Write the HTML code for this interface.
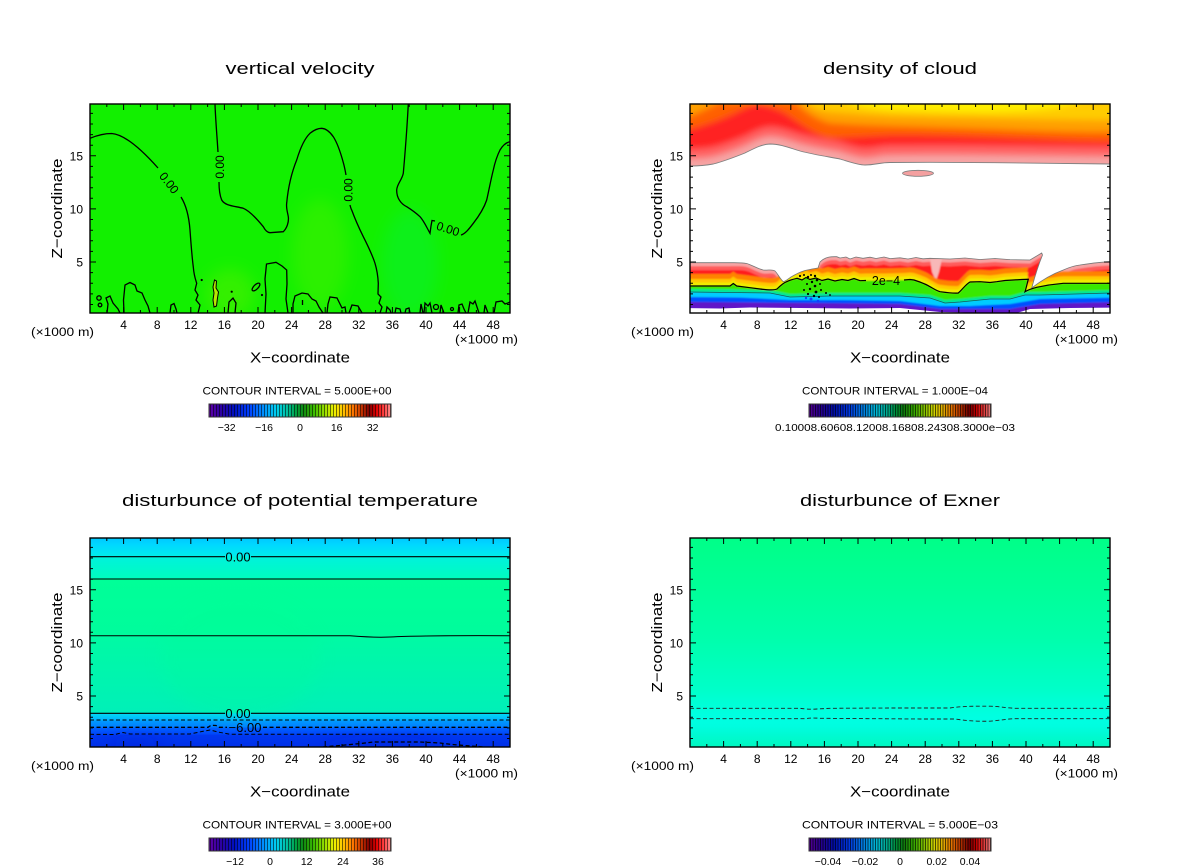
<!DOCTYPE html>
<html><head><meta charset="utf-8"><style>html,body{margin:0;padding:0;background:#fff}svg{display:block}</style></head><body>
<svg xmlns="http://www.w3.org/2000/svg" width="1200" height="868" viewBox="0 0 1200 868" font-family="'Liberation Sans', sans-serif">
<defs>
<clipPath id="bx"><rect x="0" y="0" width="420" height="209"/></clipPath>
<clipPath id="upc"><path d="M-10,62.5 L0,62 C10,62 18,61 23.3,60 C35,57 45,53 55,49 C65,44 72,40.3 80,40 C90,40 100,44 110,47 C125,51 140,53 150,55 C160,58 168,61 175,61 C185,61 190,58.5 200,58.5 L240,58.3 C300,58.5 380,59.5 420,60 L430,60 V-20 H-10 Z"/></clipPath>
<clipPath id="lowc"><path d="M-10,158.7 L40,158.7 C48,158.7 52,158.5 56.7,159.5 C62,161 68,165 73.3,166 C78,166.5 82,165 85,167 C88,170 90,175 93.3,177.7 C96,177 98,175 101,173 C106,170 110,168 115,166.5 C120,165.5 124,164.5 128,164 L130,158 L133,155.5 C137,153 140,152.5 146.7,152.7 L150,154 L156,153 L160,155 L166,153 L173,154.3 L180,153.2 L186,154.5 L194,153 L200,154.6 L210,153.8 L218,155 L226,153.5 L233,154.8 L240,154.3 L260,155 L275,154 L290,155.5 L305,154.5 L320,155.6 L340,156 L351.7,149 L352.5,151 C348,162 345,172 341.7,184 C352,176 362,170 373.3,166 C380,163 385,161.5 390,161 C400,159.5 410,158 430,157.7 L430,215 L-10,215 Z"/></clipPath>
<filter id="bl2" x="-10%" y="-30%" width="120%" height="160%"><feGaussianBlur stdDeviation="3.2"/></filter>
<filter id="bl1" x="-10%" y="-10%" width="120%" height="120%"><feGaussianBlur stdDeviation="0.9"/></filter>
<filter id="bl4" x="-50%" y="-50%" width="200%" height="200%"><feGaussianBlur stdDeviation="8"/></filter>
<linearGradient id="rb" x1="0" y1="0" x2="1" y2="0">
<stop offset="0" stop-color="#6000a8"/><stop offset="0.06" stop-color="#3000a0"/><stop offset="0.14" stop-color="#0010c0"/><stop offset="0.22" stop-color="#0040ff"/><stop offset="0.30" stop-color="#0090ff"/><stop offset="0.37" stop-color="#00d0f0"/><stop offset="0.43" stop-color="#00c0a0"/><stop offset="0.48" stop-color="#00a040"/><stop offset="0.52" stop-color="#108a10"/><stop offset="0.58" stop-color="#40c000"/><stop offset="0.64" stop-color="#a0e000"/><stop offset="0.69" stop-color="#f0f000"/><stop offset="0.74" stop-color="#ffc000"/><stop offset="0.79" stop-color="#ff7800"/><stop offset="0.84" stop-color="#c03000"/><stop offset="0.88" stop-color="#800000"/><stop offset="0.92" stop-color="#e00000"/><stop offset="0.96" stop-color="#ff4040"/><stop offset="1" stop-color="#ff9090"/>
</linearGradient>
<pattern id="st" x="0" y="0" width="3" height="20" patternUnits="userSpaceOnUse"><rect x="0" y="0" width="1" height="20" fill="#000" fill-opacity=".55"/></pattern>
<pattern id="st2" x="0" y="0" width="2.5" height="20" patternUnits="userSpaceOnUse"><rect x="0" y="0" width="1" height="20" fill="#000" fill-opacity=".65"/></pattern>
<linearGradient id="g3" gradientUnits="userSpaceOnUse" x1="0" y1="0" x2="0" y2="209">
<stop offset="0" stop-color="#00c8ff"/><stop offset="0.033" stop-color="#00d8ff"/><stop offset="0.086" stop-color="#00ecec"/><stop offset="0.091" stop-color="#00f2dc"/><stop offset="0.19" stop-color="#00fcc0"/><stop offset="0.20" stop-color="#00ff98"/><stop offset="0.464" stop-color="#00fc9c"/><stop offset="0.474" stop-color="#00faa4"/><stop offset="0.833" stop-color="#00f0b8"/><stop offset="0.842" stop-color="#00d8f4"/><stop offset="0.871" stop-color="#00b4ff"/><stop offset="0.876" stop-color="#0098ff"/><stop offset="0.904" stop-color="#0080ff"/><stop offset="0.909" stop-color="#0060ff"/><stop offset="0.938" stop-color="#0048fa"/><stop offset="0.943" stop-color="#0038f0"/><stop offset="1" stop-color="#0030e8"/>
</linearGradient>
<linearGradient id="g4" gradientUnits="userSpaceOnUse" x1="0" y1="0" x2="0" y2="209">
<stop offset="0" stop-color="#00ff88"/><stop offset="0.24" stop-color="#00ff98"/><stop offset="0.48" stop-color="#00ffac"/><stop offset="0.72" stop-color="#00ffc8"/><stop offset="0.80" stop-color="#00ffd8"/><stop offset="0.86" stop-color="#00ffe2"/><stop offset="0.90" stop-color="#00fde0"/><stop offset="0.95" stop-color="#00fad0"/><stop offset="1" stop-color="#00f8c0"/>
</linearGradient>
<g id="ax" fill="none" stroke="#000">
<rect x="0" y="0" width="420" height="209" stroke-width="1.4"/>
<path stroke-width="1" d="M16.8,0v3M33.6,0v6M50.4,0v3M67.2,0v6M84,0v3M100.8,0v6M117.6,0v3M134.4,0v6M151.2,0v3M168,0v6M184.8,0v3M201.6,0v6M218.4,0v3M235.2,0v6M252,0v3M268.8,0v6M285.6,0v3M302.4,0v6M319.2,0v3M336,0v6M352.8,0v3M369.6,0v6M386.4,0v3M403.2,0v6
M16.8,209v-3M33.6,209v-6M50.4,209v-3M67.2,209v-6M84,209v-3M100.8,209v-6M117.6,209v-3M134.4,209v-6M151.2,209v-3M168,209v-6M184.8,209v-3M201.6,209v-6M218.4,209v-3M235.2,209v-6M252,209v-3M268.8,209v-6M285.6,209v-3M302.4,209v-6M319.2,209v-3M336,209v-6M352.8,209v-3M369.6,209v-6M386.4,209v-3M403.2,209v-6
M0,200.5h3M0,189.9h3M0,179.3h3M0,168.6h3M0,158h6M0,147.4h3M0,136.8h3M0,126.2h3M0,115.5h3M0,104.9h6M0,94.3h3M0,83.7h3M0,73.1h3M0,62.4h3M0,51.8h6M0,41.2h3M0,30.6h3M0,20h3M0,9.4h3
M420,200.5h-3M420,189.9h-3M420,179.3h-3M420,168.6h-3M420,158h-6M420,147.4h-3M420,136.8h-3M420,126.2h-3M420,115.5h-3M420,104.9h-6M420,94.3h-3M420,83.7h-3M420,73.1h-3M420,62.4h-3M420,51.8h-6M420,41.2h-3M420,30.6h-3M420,20h-3M420,9.4h-3"/>
</g>
<g id="cb"><rect x="119" y="300" width="182" height="13" fill="url(#rb)"/><rect x="119" y="300" width="182" height="13" fill="url(#st)"/><rect x="119" y="300" width="182" height="13" fill="none" stroke="#333" stroke-width="1"/></g>
<g id="cb2"><rect x="119" y="300" width="182" height="13" fill="url(#rb)"/><rect x="119" y="300" width="182" height="13" fill="url(#st2)"/><rect x="119" y="300" width="182" height="13" fill="#000" fill-opacity=".12"/><rect x="119" y="300" width="182" height="13" fill="none" stroke="#333" stroke-width="1"/></g>
<path id="UP" d="M-10,62.5 L0,62 C10,62 18,61 23.3,60 C35,57 45,53 55,49 C65,44 72,40.3 80,40 C90,40 100,44 110,47 C125,51 140,53 150,55 C160,58 168,61 175,61 C185,61 190,58.5 200,58.5 L240,58.3 C300,58.5 380,59.5 420,60 L430,60 V-30 H-10 Z"/>
<path id="TR" d="M-10,158.7 L40,158.7 C48,158.7 52,158.5 56.7,159.5 C62,161 68,165 73.3,166 C78,166.5 82,165 85,167 C88,170 90,175 93.3,177.7 C96,177 98,175 101,173 C106,170 110,168 115,166.5 C120,165.5 124,164.5 128,164 L130,158 L133,155.5 C137,153 140,152.5 146.7,152.7 L150,154 L156,153 L160,155 L166,153 L173,154.3 L180,153.2 L186,154.5 L194,153 L200,154.6 L210,153.8 L218,155 L226,153.5 L233,154.8 L240,154.3 L260,155 L275,154 L290,155.5 L305,154.5 L320,155.6 L340,156 L351.7,149 L352.5,151 C348,162 345,172 341.7,184 C352,176 362,170 373.3,166 C380,163 385,161.5 390,161 C400,159.5 410,158 430,157.7 L430,215 L-10,215 Z"/>
<path id="CR" d="M-10,182 L40,182 L43.3,179.5 L46.7,182 C55,183 62,184 70,185 C78,186 84,186.5 87,185 C90,182 93,179 96.7,177.7 C100,176 104,175 107,174.3 L112,176 L116,173.5 L120,175.5 L126,174 L132,176.5 L138,175 L145,177 L152,175.5 L158,176.5 L164,174.5 L170,176.7 L176,176.5 L195,176.5 L214,176 L220,175.5 L224,176 C230,178 236,180 240,182.7 C244,185 247,187 250,187.7 C256,188.5 263,189.5 268.3,189 C272,186 276,180 280,178 L290,177.7 L300,178.5 L306.7,177.7 L315,176.5 L323.3,176 L332,175.5 L338.3,175.3 C337,180 336,185 335,187.7 C338,186 342,184.5 346.7,183.3 C355,181.5 365,180 373.3,179.3 L430,179.3 L430,215 L-10,215 Z"/>
<path id="G2" d="M-10,188 L40,188.5 L80,189 L100,193 L140,192 L210,192 L240,194 L255,199 L270,198 L300,195 L320,195 L335,191 L350,191 L430,189 L430,215 L-10,215 Z"/>
</defs>
<rect width="1200" height="868" fill="#fff"/>

<!-- ============ PANEL 1 : vertical velocity ============ -->
<g transform="translate(90,104)">
<g clip-path="url(#bx)">
<rect width="420" height="209" fill="#12f000"/>
<g filter="url(#bl4)">
<ellipse cx="230" cy="150" rx="28" ry="55" fill="#70f000" opacity=".28"/>
<ellipse cx="140" cy="190" rx="25" ry="25" fill="#80f000" opacity=".3"/>
<ellipse cx="320" cy="160" rx="28" ry="55" fill="#00f060" opacity=".28"/>
</g>
<path d="M124.5,176 L126.5,177 L126,184 L128.5,188 L127.5,194 L126.5,202 L124,203 L123,196 L124,189 L123,183 Z" fill="#b8e800" stroke="#000" stroke-width="1"/>
<g fill="none" stroke="#000" stroke-width="1.3">
<path d="M0,34.3 C8,31 15,29.5 21.7,29.5 C35,30.5 52,46 68,64 M91,93 C96,101 99,113 100,126 C101,140 102,153 103.3,163 C104,172 106,177 106.7,179.3 L105,186 L108,191 L106,196 L110,201 L108,209"/>
<path d="M125,0 C125.5,15 127,32 128,48 M129,78 C129,86 130,92 131.7,96 C135,102 145,102 153.3,104.3 C160,107 167,115 173.3,122.7 C175,126 177,128.5 180,128.7 L193.3,127.7 C197,124 199,118 198.3,112.7 C197.5,108 196,104 196.7,99 C198,85 201,70 206.7,56 C210,45 214,35 220,29.3 C224,26 228,24.3 231.7,24.3 C236,24.5 240,28 243.3,32.7 C248,40 251,50 253.5,59.3 C254.5,63 255.3,67 256,71 M260,101 C260.5,103 261,105 261.7,106 C265,115 269,124 273.3,132.7 C278,142 282,150 285,159.3 C287,166 288,173 288.3,179.3 L288,190 L291,193 L289,199 L292,203 L290,209"/>
<path d="M318.3,0 C317,25 315,50 313.3,69.3 C312,76 307,80 306.7,86 C306.5,94 311,100 316.7,102.7 C322,106 326,109 330,112.7 C334,117 337,124 340,129.3 L341,122 L342,116.5 L345,117 M371,131 C375,130 379,125 383.3,119.3 C389,112 394,104 396.7,96 C399,86 401,75 403.3,66 C405,58 407,52 410,46 C413,41 416,38.5 420,37.7"/>
<path d="M17,209 L18,200 L16,194 L20,192 L23,199 L28,205 L30,209 M34,209 L33.5,196 L35,181 L40,178.5 L45,181 L47,187 L52,189 L55,196 L58,202 L60,209 M80,209 L81,201 L84,199.5 L86,205 L87,209 M138,209 L139,198 L143,194 L146,199 L145,209 M175,209 L176,190 L175,175 L176.5,160 L186,158.3 L192,162 L196.7,166 L197,180 L196,195 L198,209 M203,209 L203,200 L205,192 L212,189 L218,190 L222,195 L226,197 L229,203 L233,209 M212.5,196 L212.5,201 M237,209 L238,200 L240,193 L247,194 L250,200 L252,204 L255,203 L256,209 M259,209 L262,201 L268,202 L272,209 M296,209 L297,203 L300,206 L301,209 M305,209 L306,204 L310,205 L311,209 M315,209 L316,205 L319,204 L320,209 M330,209 L331,200 L333,209 M334,209 L335,199 L338,202 L340,199 L342,209 M350,209 L351,201 L354,209 M368,209 L369,201 L372,200 L374,205 L376,209 M378,209 L380,198 L383,200 L385,197 L387,203 L389,209 M394,209 L395,201 L398,209 M404,209 L406,198 L412,197 L415,200 L418,199 L420,198"/>
<circle cx="9" cy="194" r="2.2"/><circle cx="10" cy="201" r="1.8"/><circle cx="346" cy="203" r="2.5"/><circle cx="362" cy="205" r="1.5"/>
<ellipse cx="166" cy="183" rx="5" ry="2.2" transform="rotate(-45 166 183)"/>
</g>
<circle cx="111.7" cy="176" r="1.1"/><circle cx="141.7" cy="187.7" r="1.1"/><circle cx="172" cy="191" r="1.1"/>
<g font-size="12" text-anchor="middle" fill="#000">
<text transform="translate(79,79) rotate(52)" y="4">0.00</text>
<text transform="translate(130,63) rotate(-90)" y="4">0.00</text>
<text transform="translate(258.3,86) rotate(-90)" y="4">0.00</text>
<text transform="translate(358,125) rotate(18)" y="4">0.00</text>
</g>
</g>
<use href="#ax"/>
<text x="210" y="-30" text-anchor="middle" font-size="17" textLength="149" lengthAdjust="spacingAndGlyphs">vertical velocity</text>
<g font-size="12" text-anchor="middle"><text x="33.6" y="225">4</text><text x="67.2" y="225">8</text><text x="100.8" y="225">12</text><text x="134.4" y="225">16</text><text x="168" y="225">20</text><text x="201.6" y="225">24</text><text x="235.2" y="225">28</text><text x="268.8" y="225">32</text><text x="302.4" y="225">36</text><text x="336" y="225">40</text><text x="369.6" y="225">44</text><text x="403.2" y="225">48</text></g>
<g font-size="12" text-anchor="end"><text x="-7" y="56.3">15</text><text x="-7" y="109.4">10</text><text x="-7" y="162.5">5</text></g>
<text x="-59" y="232" font-size="11.5" textLength="63" lengthAdjust="spacingAndGlyphs">(×1000 m)</text>
<text x="365" y="239.5" font-size="11.5" textLength="63" lengthAdjust="spacingAndGlyphs">(×1000 m)</text>
<text x="210" y="258.5" text-anchor="middle" font-size="14.5" textLength="100" lengthAdjust="spacingAndGlyphs">X−coordinate</text>
<text transform="translate(-28,104.5) rotate(-90)" text-anchor="middle" font-size="14.5" textLength="100" lengthAdjust="spacingAndGlyphs">Z−coordinate</text>
<text x="207" y="290.5" text-anchor="middle" font-size="11" textLength="189" lengthAdjust="spacingAndGlyphs">CONTOUR INTERVAL = 5.000E+00</text>
<use href="#cb"/>
<g font-size="10.5" text-anchor="middle"><text x="136.7" y="327">−32</text><text x="174" y="327">−16</text><text x="210" y="327">0</text><text x="246.7" y="327">16</text><text x="282.7" y="327">32</text></g>
</g>

<!-- ============ PANEL 2 : density of cloud ============ -->
<g transform="translate(690,104)">
<g clip-path="url(#bx)">
<rect width="420" height="209" fill="#fff"/>
<use href="#UP" fill="#f6a4a4"/>
<g clip-path="url(#upc)">
<g filter="url(#bl2)">
<use href="#UP" fill="#ff6464" transform="translate(0,-8)"/>
<use href="#UP" fill="#ff2020" transform="translate(0,-17)"/>
<path fill="#ff6000" d="M-10,-10 L-10,26 L0,25 C15,21 30,16 45,9 C55,4 62,1 67,0 C75,1 85,4 95,9 C110,19 125,31 140,34 C160,33 180,32 203,31 C240,31 270,32 300,33 C340,34.5 380,36.5 407,37 L430,37 L430,-10 Z"/>
<path fill="#ffa000" d="M-10,-10 L-10,13 L0,12 C12,7 22,2 30,-2 L105,-2 C115,8 128,16 140,19 C160,20.5 185,21.5 203,22 C240,23 270,24 300,25 C340,26.5 380,28 407,28 L430,28 L430,-10 Z"/>
<path fill="#ffcc00" d="M110,-10 L115,-2 C122,4 130,7 140,8 C160,9.5 185,11 203,12 C240,13 270,13.5 300,14 C340,15 380,15.5 407,16 L430,16 L430,-10 Z"/>
<path fill="#fff000" d="M150,-10 L158,-1 C170,3 188,5 203,6 C240,7 270,8 300,8 C330,7.5 350,6 365,4 C375,2 385,0 395,-4 L400,-10 Z"/>
</g>
</g>
<path fill="none" stroke="#808080" stroke-width=".9" d="M0,62 C10,62 18,61 23.3,60 C35,57 45,53 55,49 C65,44 72,40.3 80,40 C90,40 100,44 110,47 C125,51 140,53 150,55 C160,58 168,61 175,61 C185,61 190,58.5 200,58.5 L240,58.3 C300,58.5 380,59.5 420,60"/>
<ellipse cx="228" cy="69.3" rx="15.5" ry="3" fill="#f4a0a0" stroke="#808080" stroke-width=".8"/>
<g clip-path="url(#lowc)">
<g filter="url(#bl1)">
<rect x="-10" y="140" width="440" height="80" fill="#f6a4a4"/>
<use href="#TR" fill="#ff5c5c" transform="translate(0,3.5)"/>
<use href="#TR" fill="#ff1c1c" transform="translate(0,7.5)"/>
<path d="M240,155 L252,155 L249,168 L246,177 L242,168 Z" fill="#f8b8b8"/>
<use href="#CR" fill="#ff8200" transform="translate(0,-12)"/>
<use href="#CR" fill="#ffc800" transform="translate(0,-7)"/>
<use href="#CR" fill="#f0ec00" transform="translate(0,-3.5)"/>
<use href="#CR" fill="#38e800"/>
<use href="#G2" fill="#00e890" transform="translate(0,-3)"/>
<use href="#G2" fill="#00ccff"/>
<path fill="#0050ff" d="M-10,193 L50,193.5 L100,196 L150,196 L210,197 L250,202 L280,202 L320,200 L350,195 L430,193.5 L430,215 L-10,215 Z"/>
<path fill="#6018c8" d="M-10,198 L60,198.5 L120,199 L210,200 L250,205 L320,205 L350,200 L430,198 L430,215 L-10,215 Z"/>
</g>
</g>
<path fill="#fff" d="M-10,204 L30,204.5 L60,203.5 L110,204 L160,204.5 L210,204 L250,208 L325,209.5 L340,205 L380,204 L430,203.5 L430,215 L-10,215 Z"/>
<path fill="none" stroke="#777" stroke-width=".8" d="M0,158.7 L40,158.7 C48,158.7 52,158.5 56.7,159.5 C62,161 68,165 73.3,166 C78,166.5 82,165 85,167 C88,170 90,175 93.3,177.7 C96,177 98,175 101,173 C106,170 110,168 115,166.5 C120,165.5 124,164.5 128,164 L130,158 L133,155.5 C137,153 140,152.5 146.7,152.7 L150,154 L156,153 L160,155 L166,153 L173,154.3 L180,153.2 L186,154.5 L194,153 L200,154.6 L210,153.8 L218,155 L226,153.5 L233,154.8 L240,154.3 L260,155 L275,154 L290,155.5 L305,154.5 L320,155.6 L340,156 L351.7,149 L352.5,151 C348,162 345,172 341.7,184 C352,176 362,170 373.3,166 C380,163 385,161.5 390,161 C400,159.5 410,158 420,157.7"/>
<path fill="none" stroke="#000" stroke-width="1.2" d="M0,182 L40,182 L43.3,179.5 L46.7,182 C55,183 62,184 70,185 C78,186 84,186.5 87,185 C90,182 93,179 96.7,177.7 C100,176 104,175 107,174.3 L112,176 L116,173.5 L120,175.5 L126,174 L132,176.5 L138,175 L145,177 L152,175.5 L158,176.5 L164,174.5 L170,176.7 L176,176.5 M214,176 L220,175.5 L224,176 C230,178 236,180 240,182.7 C244,185 247,187 250,187.7 C256,188.5 263,189.5 268.3,189 C272,186 276,180 280,178 L290,177.7 L300,178.5 L306.7,177.7 L315,176.5 L323.3,176 L332,175.5 L338.3,175.3 C337,180 336,185 335,187.7 C338,186 342,184.5 346.7,183.3 C355,181.5 365,180 373.3,179.3 L420,179.3"/>
<path fill="none" stroke="#222" stroke-width=".7" stroke-opacity=".7" d="M0,188 L40,188.5 L80,189 L100,193 L140,192 L210,192 L240,194 L255,199 L270,198 L300,195 L320,195 L335,191 L350,191 L420,189"/>
<g fill="#000">
<circle cx="110" cy="172" r="1.1"/><circle cx="114" cy="171" r="1"/><circle cx="118" cy="173" r="1.2"/><circle cx="121" cy="171" r="1"/><circle cx="125" cy="172" r="1.2"/><circle cx="127" cy="176" r="1.3"/><circle cx="122" cy="178" r="1.2"/><circle cx="117" cy="180" r="1"/><circle cx="125" cy="182" r="1.3"/><circle cx="130" cy="180" r="1"/><circle cx="120" cy="185" r="1.2"/><circle cx="126" cy="188" r="1.4"/><circle cx="131" cy="186" r="1"/><circle cx="118" cy="190" r="1.1"/><circle cx="124" cy="192" r="1.2"/><circle cx="129" cy="193" r="1"/><circle cx="114" cy="186" r="1"/><circle cx="136" cy="189" r="1"/><circle cx="140" cy="191" r="0.9"/>
</g>
<g fill="#1040ff"><circle cx="121" cy="195" r="1.5"/><circle cx="128" cy="197" r="1.3"/><circle cx="116" cy="194" r="1.2"/></g>
<text x="196" y="181" text-anchor="middle" font-size="12.5">2e−4</text>
</g>
<use href="#ax"/>
<text x="210" y="-30" text-anchor="middle" font-size="17" textLength="154" lengthAdjust="spacingAndGlyphs">density of cloud</text>
<g font-size="12" text-anchor="middle"><text x="33.6" y="225">4</text><text x="67.2" y="225">8</text><text x="100.8" y="225">12</text><text x="134.4" y="225">16</text><text x="168" y="225">20</text><text x="201.6" y="225">24</text><text x="235.2" y="225">28</text><text x="268.8" y="225">32</text><text x="302.4" y="225">36</text><text x="336" y="225">40</text><text x="369.6" y="225">44</text><text x="403.2" y="225">48</text></g>
<g font-size="12" text-anchor="end"><text x="-7" y="56.3">15</text><text x="-7" y="109.4">10</text><text x="-7" y="162.5">5</text></g>
<text x="-59" y="232" font-size="11.5" textLength="63" lengthAdjust="spacingAndGlyphs">(×1000 m)</text>
<text x="365" y="239.5" font-size="11.5" textLength="63" lengthAdjust="spacingAndGlyphs">(×1000 m)</text>
<text x="210" y="258.5" text-anchor="middle" font-size="14.5" textLength="100" lengthAdjust="spacingAndGlyphs">X−coordinate</text>
<text transform="translate(-28,104.5) rotate(-90)" text-anchor="middle" font-size="14.5" textLength="100" lengthAdjust="spacingAndGlyphs">Z−coordinate</text>
<text x="205" y="290.5" text-anchor="middle" font-size="11" textLength="186" lengthAdjust="spacingAndGlyphs">CONTOUR INTERVAL = 1.000E−04</text>
<use href="#cb2"/>
<text x="85" y="327" font-size="10.5" textLength="240" lengthAdjust="spacingAndGlyphs">0.10008.60608.12008.16808.24308.3000e−03</text>
</g>

<!-- ============ PANEL 3 : potential temperature ============ -->
<g transform="translate(90,538)">
<g clip-path="url(#bx)">
<rect width="420" height="209" fill="url(#g3)"/>
<g filter="url(#bl4)" opacity=".5">
<ellipse cx="45" cy="207" rx="25" ry="5" fill="#0018d0"/>
<ellipse cx="290" cy="208" rx="60" ry="5" fill="#0018d0"/>
<ellipse cx="150" cy="120" rx="80" ry="60" fill="#00ff90" opacity=".4"/>
</g>
<g fill="none" stroke="#000" stroke-width="1.2">
<path d="M0,18.7 H135 M161,18.7 H420"/>
<path d="M0,41 H420" stroke-width="1"/>
<path d="M0,97.7 C100,97.7 200,97.5 260,97.8 C275,99 290,99.5 300,99 C330,97.5 380,97.5 420,97.7" stroke-width="1"/>
<path d="M0,175.3 H135 M161,175.3 H420"/>
</g>
<g fill="none" stroke="#000" stroke-width="1" stroke-dasharray="4 2.5">
<path d="M0,182 H420"/>
<path d="M0,189.3 H118 L121,187.3 L126,187.5 L129,189.3 H137 M173,189.3 H420" stroke-width="1.3"/>
<path d="M0,196.3 L25,196.5 L33,194.5 L40,196 L100,196 L112,193.5 L120,192 L128,194 L140,196.3 H420"/>
<path d="M233,209 C250,207.5 268,206 283,204 L330,204 L350,205 C365,207 380,208 395,209" stroke-width="1.3"/>
</g>
<g font-size="13" text-anchor="middle"><text x="148" y="23.3">0.00</text><text x="148" y="180">0.00</text><text x="155" y="194">−6.00</text></g>
</g>
<use href="#ax"/>
<text x="210" y="-32" text-anchor="middle" font-size="17" textLength="356" lengthAdjust="spacingAndGlyphs">disturbunce of potential temperature</text>
<g font-size="12" text-anchor="middle"><text x="33.6" y="225">4</text><text x="67.2" y="225">8</text><text x="100.8" y="225">12</text><text x="134.4" y="225">16</text><text x="168" y="225">20</text><text x="201.6" y="225">24</text><text x="235.2" y="225">28</text><text x="268.8" y="225">32</text><text x="302.4" y="225">36</text><text x="336" y="225">40</text><text x="369.6" y="225">44</text><text x="403.2" y="225">48</text></g>
<g font-size="12" text-anchor="end"><text x="-7" y="56.3">15</text><text x="-7" y="109.4">10</text><text x="-7" y="162.5">5</text></g>
<text x="-59" y="232" font-size="11.5" textLength="63" lengthAdjust="spacingAndGlyphs">(×1000 m)</text>
<text x="365" y="239.5" font-size="11.5" textLength="63" lengthAdjust="spacingAndGlyphs">(×1000 m)</text>
<text x="210" y="258.5" text-anchor="middle" font-size="14.5" textLength="100" lengthAdjust="spacingAndGlyphs">X−coordinate</text>
<text transform="translate(-28,104.5) rotate(-90)" text-anchor="middle" font-size="14.5" textLength="100" lengthAdjust="spacingAndGlyphs">Z−coordinate</text>
<text x="207" y="290.5" text-anchor="middle" font-size="11" textLength="189" lengthAdjust="spacingAndGlyphs">CONTOUR INTERVAL = 3.000E+00</text>
<use href="#cb"/>
<g font-size="10.5" text-anchor="middle"><text x="145" y="327">−12</text><text x="180" y="327">0</text><text x="216.7" y="327">12</text><text x="253" y="327">24</text><text x="288" y="327">36</text></g>
</g>

<!-- ============ PANEL 4 : Exner ============ -->
<g transform="translate(690,538)">
<g clip-path="url(#bx)">
<rect width="420" height="209" fill="url(#g4)"/>
<g fill="none" stroke="#222" stroke-width=".9" stroke-dasharray="4 2.5">
<path d="M0,170.3 L110,170.3 C115,171 120,171.5 127,171 L140,170.3 L200,170 L260,170 C270,168.5 280,168 300,168.2 C310,168.5 315,169.8 325,170.3 L420,170.3"/>
<path d="M0,180.7 L115,180.7 C120,180 124,179.8 130,180.3 L230,181 L265,181 C275,182.5 285,183.5 300,183.2 C310,182.5 315,181 325,180.7 L420,180.7"/>
</g>
</g>
<use href="#ax"/>
<text x="210" y="-32" text-anchor="middle" font-size="17" textLength="200" lengthAdjust="spacingAndGlyphs">disturbunce of Exner</text>
<g font-size="12" text-anchor="middle"><text x="33.6" y="225">4</text><text x="67.2" y="225">8</text><text x="100.8" y="225">12</text><text x="134.4" y="225">16</text><text x="168" y="225">20</text><text x="201.6" y="225">24</text><text x="235.2" y="225">28</text><text x="268.8" y="225">32</text><text x="302.4" y="225">36</text><text x="336" y="225">40</text><text x="369.6" y="225">44</text><text x="403.2" y="225">48</text></g>
<g font-size="12" text-anchor="end"><text x="-7" y="56.3">15</text><text x="-7" y="109.4">10</text><text x="-7" y="162.5">5</text></g>
<text x="-59" y="232" font-size="11.5" textLength="63" lengthAdjust="spacingAndGlyphs">(×1000 m)</text>
<text x="365" y="239.5" font-size="11.5" textLength="63" lengthAdjust="spacingAndGlyphs">(×1000 m)</text>
<text x="210" y="258.5" text-anchor="middle" font-size="14.5" textLength="100" lengthAdjust="spacingAndGlyphs">X−coordinate</text>
<text transform="translate(-28,104.5) rotate(-90)" text-anchor="middle" font-size="14.5" textLength="100" lengthAdjust="spacingAndGlyphs">Z−coordinate</text>
<text x="210" y="290.5" text-anchor="middle" font-size="11" textLength="196" lengthAdjust="spacingAndGlyphs">CONTOUR INTERVAL = 5.000E−03</text>
<use href="#cb2"/>
<g font-size="10.5" text-anchor="middle"><text x="138" y="327">−0.04</text><text x="175" y="327">−0.02</text><text x="210" y="327">0</text><text x="246.7" y="327">0.02</text><text x="280" y="327">0.04</text></g>
</g>
</svg>
</body></html>
